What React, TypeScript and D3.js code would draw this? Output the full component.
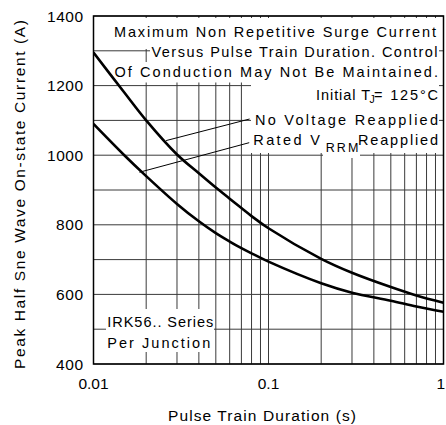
import React from "react";
import * as d3 from "d3";

const width = 446;
const height = 425;
const margin = { top: 16, right: 2.5, bottom: 61, left: 93.5 };
const font = "Liberation Sans, sans-serif";

// pulse train duration (s)
const durations = [0.01, 0.015, 0.02, 0.03, 0.04, 0.05, 0.06, 0.07, 0.08, 0.1, 0.2, 0.3, 0.5, 0.7, 1];
// peak half sine wave on-state current (A)
const noVoltageReapplied = [1295, 1180, 1100, 1002, 948, 907, 875, 848, 825, 790, 702, 662, 621, 597, 576];
const ratedVrrmReapplied = [1090, 1000, 940, 860, 810, 776, 752, 733, 718, 694, 632, 605, 582, 565, 550];

const yTicks = [400, 600, 800, 1000, 1200, 1400];
const xTicks = [0.01, 0.1, 1];
const xTickLabels = ["0.01", "0.1", "1"];

// leader lines: curve point -> label
const leaderNoVoltage = [{ t: 0.026, v: 1042 }, { t: 0.078, v: 1104 }];
const leaderRated = [{ t: 0.0183, v: 951 }, { t: 0.0776, v: 1036 }];

const xScale = d3.scaleLog().domain([0.01, 1]).range([margin.left, width - margin.right]);
const yScale = d3.scaleLinear().domain([400, 1400]).range([height - margin.bottom, margin.top]);

const lineGen = d3
  .line<number>()
  .x((d, i) => xScale(durations[i]))
  .y(d => yScale(d))
  .curve(d3.curveCatmullRom.alpha(0.5));

const leaderGen = d3
  .line<{ t: number; v: number }>()
  .x(d => xScale(d.t))
  .y(d => yScale(d.v));

export default function App() {
  const x0 = margin.left;
  const x1 = width - margin.right;
  const y0 = margin.top;
  const y1 = height - margin.bottom;

  return (
    <svg
      width={width}
      height={height}
      style={{ position: "absolute", left: 0, top: 0, background: "#fff", fontFamily: font }}
    >
      <defs>
        <clipPath id="plot">
          <rect x={x0} y={y0} width={x1 - x0} height={y1 - y0} />
        </clipPath>
      </defs>

      {/* grid */}
      <g stroke="#3a3a3a" strokeWidth={1}>
        {xScale.ticks().map(t => (
          <line key={"v" + t} x1={xScale(t)} x2={xScale(t)} y1={y0} y2={y1} />
        ))}
        {yScale.ticks(10).map(v => (
          <line key={"h" + v} x1={x0} x2={x1} y1={yScale(v)} y2={yScale(v)} />
        ))}
      </g>

      {/* white boxes behind the notes */}
      <g fill="#fff">
        <rect x={108} y={18} width={331} height={31} />
        <rect x={150} y={49} width={289} height={13} />
        <rect x={110} y={62} width={329} height={20.5} />
        <rect x={251} y={82} width={188} height={71} />
        <rect x={323} y={150} width={37} height={8} />
        <rect x={106} y={309} width={108} height={43} />
      </g>

      {/* frame */}
      <rect x={x0} y={y0} width={x1 - x0} height={y1 - y0} fill="none" stroke="#000" strokeWidth={1.5} />

      {/* curves */}
      <g clipPath="url(#plot)" fill="none" stroke="#000" strokeWidth={2.6}>
        <path d={lineGen(noVoltageReapplied) ?? ""} />
        <path d={lineGen(ratedVrrmReapplied) ?? ""} />
      </g>
      <g fill="none" stroke="#000" strokeWidth={1}>
        <path d={leaderGen(leaderNoVoltage) ?? ""} />
        <path d={leaderGen(leaderRated) ?? ""} />
      </g>

      {/* notes */}
      <g fontSize={14.5} fill="#000">
        <text x={114} y={37.3} textLength={322} lengthAdjust="spacing">Maximum Non Repetitive Surge Current</text>
        <text x={151.5} y={56.7} textLength={286} lengthAdjust="spacing">Versus Pulse Train Duration. Control</text>
        <text x={114.5} y={77.3} textLength={323.5} lengthAdjust="spacing">Of Conduction May Not Be Maintained.</text>
        <text x={316} y={99.5} textLength={54} lengthAdjust="spacing">Initial T</text>
        <text x={369.5} y={103} fontSize={10.5}>J</text>
        <text x={374} y={99.5} textLength={64} lengthAdjust="spacing">= 125°C</text>
        <text x={255} y={125} textLength={183} lengthAdjust="spacing">No Voltage Reapplied</text>
        <text x={253.3} y={145} textLength={66.7} lengthAdjust="spacing">Rated V</text>
        <text x={325.7} y={151.7} fontSize={12.5} textLength={32.6} lengthAdjust="spacing">RRM</text>
        <text x={358} y={145} textLength={80} lengthAdjust="spacing">Reapplied</text>
        <text x={107.3} y={327} textLength={106} lengthAdjust="spacing">IRK56.. Series</text>
        <text x={107.3} y={348} textLength={103} lengthAdjust="spacing">Per Junction</text>
      </g>

      {/* axes labels */}
      <g fontSize={15.5} fill="#000">
        {yTicks.map(v => (
          <text key={v} x={83} y={yScale(v) + 5.5} textAnchor="end" textLength={v >= 1000 ? 36 : 27} lengthAdjust="spacing">
            {v}
          </text>
        ))}
        {xTicks.map((t, i) => (
          <text
            key={t}
            x={i === xTicks.length - 1 ? width - 1 : xScale(t)}
            y={389}
            textAnchor={i === xTicks.length - 1 ? "end" : "middle"}
          >
            {xTickLabels[i]}
          </text>
        ))}
        <text x={262} y={421} textAnchor="middle" textLength={188} lengthAdjust="spacing">
          Pulse Train Duration (s)
        </text>
        <text
          transform={`translate(25, ${194.5}) rotate(-90)`}
          textAnchor="middle"
          textLength={349}
          lengthAdjust="spacing"
        >
          Peak Half Sne Wave On-state Current (A)
        </text>
      </g>
    </svg>
  );
}
